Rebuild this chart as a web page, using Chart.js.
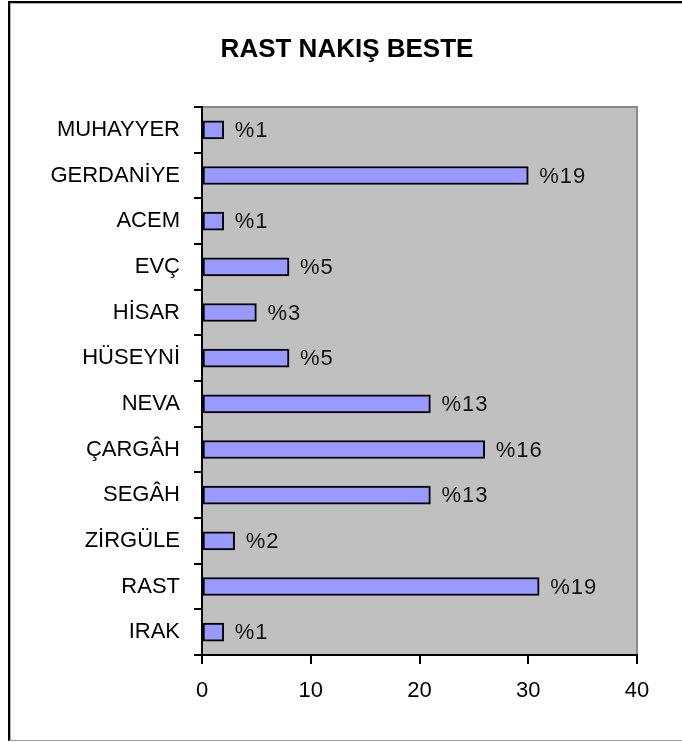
<!DOCTYPE html>
<html>
<head>
<meta charset="utf-8">
<script src="https://cdn.jsdelivr.net/npm/chart.js@4/dist/chart.umd.min.js"></script>
<style>
  html, body { margin: 0; padding: 0; background: #fff; overflow: hidden; }
  #wrap { position: relative; width: 682px; height: 742px; }
  #frame {
    position: absolute; left: 8px; top: 1px; width: 720px; height: 737px;
    border-left: 2px solid #000; border-top: 2px solid #000; border-bottom: 1px solid #a0a0a0;
    box-shadow: inset 1px 1px 0 #b0b0b0; pointer-events: none;
  }
  canvas { position: absolute; left: 0; top: 0; }
</style>
</head>
<body>
<div id="wrap">
  <canvas id="chart" width="682" height="742"></canvas>
  <div id="frame"></div>
</div>
<script>
const titleText = 'RAST NAKIŞ BESTE';
const categories = ['MUHAYYER', 'GERDANİYE', 'ACEM', 'EVÇ', 'HİSAR', 'HÜSEYNİ', 'NEVA', 'ÇARGÂH', 'SEGÂH', 'ZİRGÜLE', 'RAST', 'IRAK'];
const values = [2, 30, 2, 8, 5, 8, 21, 26, 21, 3, 31, 2];
const pctLabels = ['%1', '%19', '%1', '%5', '%3', '%5', '%13', '%16', '%13', '%2', '%19', '%1'];
const xTicks = [0, 10, 20, 30, 40];

const FONT = "'Liberation Sans', Arial, sans-serif";

// gray plot area with its darker edge (top + right)
const plotBg = {
  id: 'plotBg',
  beforeDraw(chart) {
    const { ctx, chartArea: a } = chart;
    ctx.save();
    ctx.fillStyle = '#c0c0c0';
    ctx.fillRect(a.left, a.top, a.right - a.left, a.bottom - a.top);
    ctx.strokeStyle = '#8a8a8a';
    ctx.lineWidth = 2;
    ctx.beginPath();
    ctx.moveTo(a.left, a.top);
    ctx.lineTo(a.right, a.top);
    ctx.lineTo(a.right, a.bottom);
    ctx.stroke();
    ctx.restore();
  }
};

// title centred on the outer frame (which runs past the right edge), not on the canvas
const frameTitle = {
  id: 'frameTitle',
  afterDraw(chart) {
    const { ctx } = chart;
    ctx.save();
    ctx.font = 'bold 26px ' + FONT;
    ctx.fillStyle = '#000';
    ctx.textAlign = 'center';
    ctx.textBaseline = 'middle';
    ctx.fillText(titleText, 347, 50);
    ctx.restore();
  }
};

// "%n" labels right of each bar
const barLabels = {
  id: 'barLabels',
  afterDatasetsDraw(chart) {
    const { ctx } = chart;
    const meta = chart.getDatasetMeta(0);
    ctx.save();
    ctx.font = '22px ' + FONT;
    ctx.fillStyle = '#111';
    ctx.textAlign = 'left';
    ctx.textBaseline = 'middle';
    if ('letterSpacing' in ctx) ctx.letterSpacing = '1px';
    meta.data.forEach((bar, i) => {
      ctx.fillText(pctLabels[i], bar.x + 11, bar.y + 1);
    });
    ctx.restore();
  }
};

new Chart(document.getElementById('chart'), {
  type: 'bar',
  data: {
    labels: categories,
    datasets: [{
      data: values,
      backgroundColor: '#9999ff',
      borderColor: '#000',
      borderWidth: 2,
      borderSkipped: false,
      barThickness: 18,
    }]
  },
  options: {
    indexAxis: 'y',
    responsive: false,
    animation: false,
    devicePixelRatio: 1,
    layout: { padding: { left: 12, right: 45, top: 107, bottom: 0 } },
    plugins: {
      legend: { display: false },
      tooltip: { enabled: false },
      title: { display: false },
    },
    scales: {
      x: {
        min: 0,
        max: 40,
        afterBuildTicks: (s) => { s.ticks = xTicks.map((v) => ({ value: v })); },
        afterFit: (s) => { s.height = 87; },
        border: { color: '#000', width: 2 },
        grid: { drawOnChartArea: false, color: '#000', lineWidth: 2, tickLength: 9 },
        ticks: { color: '#000', font: { family: FONT, size: 22 }, padding: 14 },
      },
      y: {
        afterFit: (s) => { s.width = 190; },
        border: { color: '#000', width: 2 },
        grid: { drawOnChartArea: false, color: '#000', lineWidth: 2, tickLength: 8 },
        ticks: { color: '#000', font: { family: FONT, size: 22 }, padding: 14 },
      },
    },
  },
  plugins: [plotBg, barLabels, frameTitle],
});
</script>
</body>
</html>
